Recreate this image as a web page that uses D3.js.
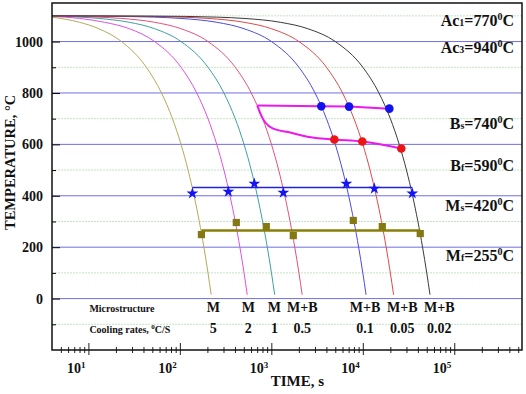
<!DOCTYPE html>
<html>
<head>
  <title>CCT diagram</title>
  <script src="https://cdn.jsdelivr.net/npm/d3@7/dist/d3.min.js"></script>
  <style>
    html, body { margin: 0; padding: 0; background: #fff; overflow: hidden; }
    svg { display: block; }
    text { font-family: 'Liberation Serif', 'Times New Roman', serif; font-weight: bold; }
  </style>
</head>
<body>
  <svg width="526" height="394" id="mainsvg"></svg>
  <script>
    // cooling rates, °C/s, and what they end up as
    const rates = ['5', '2', '1', '0.5', '0.1', '0.05', '0.02'];
    const phases = ['M', 'M', 'M', 'M+B', 'M+B', 'M+B', 'M+B'];
    const labelTimes = [232, 560, 1080, 2180, 10600, 27000, 68600];
    const curveColors = ['#b3aa5c', '#e050e0', '#3f9f9f', '#e2507e', '#4a4ae0', '#e04848', '#3a3a3a'];

    // cooling curves: [time s, temperature °C]
    const curve5 = [[4, 1095], [8, 1075], [13, 1050], [23, 1000], [43, 900], [63, 800], [83, 700], [103, 600], [123, 500], [143, 400], [163, 300], [183, 200], [203, 100], [220, 15]];
    const curve2 = [[4, 1098], [8, 1090], [15, 1075], [28, 1050], [53, 1000], [103, 900], [153, 800], [203, 700], [253, 600], [303, 500], [353, 400], [403, 300], [453, 200], [503, 100], [545, 15]];
    const curve1 = [[4, 1099], [13, 1090], [28, 1075], [53, 1050], [103, 1000], [203, 900], [303, 800], [403, 700], [503, 600], [603, 500], [703, 400], [803, 300], [903, 200], [1003, 100], [1088, 15]];
    const curve05 = [[4, 1100], [13, 1095], [23, 1090], [53, 1075], [103, 1050], [203, 1000], [403, 900], [603, 800], [803, 700], [1003, 600], [1203, 500], [1403, 400], [1603, 300], [1803, 200], [2003, 100], [2173, 15]];
    const curve01 = [[4, 1100], [13, 1099], [53, 1095], [103, 1090], [253, 1075], [503, 1050], [1003, 1000], [2003, 900], [3003, 800], [4003, 700], [5003, 600], [6003, 500], [7003, 400], [8003, 300], [9003, 200], [10003, 100], [10853, 15]];
    const curve005 = [[4, 1100], [23, 1099], [103, 1095], [203, 1090], [503, 1075], [1003, 1050], [2003, 1000], [4003, 900], [6003, 800], [8003, 700], [10003, 600], [12003, 500], [14003, 400], [16003, 300], [18003, 200], [20003, 100], [21703, 15]];
    const curve002 = [[4, 1100], [53, 1099], [253, 1095], [503, 1090], [1253, 1075], [2503, 1050], [5003, 1000], [10003, 900], [15003, 800], [20003, 700], [25003, 600], [30003, 500], [35003, 400], [40003, 300], [45003, 200], [50003, 100], [54253, 15]];
    const curves = [curve5, curve2, curve1, curve05, curve01, curve005, curve002];

    // bainite start / finish
    const bsLine = [[703, 751], [3516, 748], [7080, 747], [19500, 739]];
    const bfLine = [[703, 751], [759, 720], [859, 685], [1052, 661], [1614, 646], [2472, 630], [4887, 619], [9886, 611], [26360, 584]];
    const bsPoints = bsLine.slice(1);
    const bfPoints = bfLine.slice(6);

    // martensite start / finish
    const msTimes = [137, 339, 652, 1352, 6610, 13370, 34750];
    const msTemps = [409, 416, 447, 412, 447, 428, 409];
    const msLevel = 432;
    const mfTimes = [172, 414, 881, 1738, 7870, 16330, 42450];
    const mfTemps = [249, 296, 280, 245, 304, 280, 253];
    const mfLevel = 265;

    const yMajor = [0, 200, 400, 600, 800, 1000];
    const yMinor = [-100, 100, 300, 500, 700, 900, 1100];
    const xMajor = [1e1, 1e2, 1e3, 1e4, 1e5];

    const svg = d3.select('#mainsvg');
    const margin = { top: 3, right: 4, bottom: 44, left: 52 };
    const innerWidth = +svg.attr('width') - margin.left - margin.right;
    const innerHeight = +svg.attr('height') - margin.top - margin.bottom;

    const xScale = d3.scaleLog().domain([4, 5.5e5]).range([0, innerWidth]);
    const yScale = d3.scaleLinear().domain([-200, 1150]).range([innerHeight, 0]);

    const xMinor = [];
    [1, 10, 100, 1000, 1e4, 1e5].forEach(d => {
      for (let k = 2; k <= 9; k++) {
        const v = d * k;
        if (v > 4 && v < 5.5e5) xMinor.push(v);
      }
    });

    const g = svg.append('g').attr('transform', `translate(${margin.left}, ${margin.top})`);

    g.append('clipPath').attr('id', 'plotclip')
      .append('rect').attr('width', innerWidth).attr('height', innerHeight);

    // grid
    g.selectAll('.gmin').data(yMinor).enter().append('line')
      .attr('x1', 0).attr('x2', innerWidth)
      .attr('y1', d => yScale(d)).attr('y2', d => yScale(d))
      .attr('stroke', '#c4e4c4').attr('stroke-dasharray', '2,1');
    g.selectAll('.gmaj').data(yMajor).enter().append('line')
      .attr('x1', 0).attr('x2', innerWidth)
      .attr('y1', d => yScale(d)).attr('y2', d => yScale(d))
      .attr('stroke', '#7070e2');

    const plot = g.append('g').attr('clip-path', 'url(#plotclip)');
    const line = d3.line()
      .x(d => xScale(d[0]))
      .y(d => yScale(d[1]))
      .curve(d3.curveMonotoneX);

    plot.selectAll('.cool').data(curves).enter().append('path')
      .attr('d', line)
      .attr('fill', 'none')
      .attr('stroke', (d, i) => curveColors[i])
      .attr('stroke-width', 1);

    // Bs and Bf lines
    plot.append('path').attr('d', line.curve(d3.curveLinear)(bsLine))
      .attr('fill', 'none').attr('stroke', '#ee18ee').attr('stroke-width', 2);
    plot.append('path').attr('d', line.curve(d3.curveMonotoneX)(bfLine))
      .attr('fill', 'none').attr('stroke', '#ee18ee').attr('stroke-width', 2);

    // Ms and Mf lines
    plot.append('line')
      .attr('x1', xScale(msTimes[0])).attr('x2', xScale(msTimes[msTimes.length - 1]))
      .attr('y1', yScale(msLevel)).attr('y2', yScale(msLevel))
      .attr('stroke', '#2323d6').attr('stroke-width', 1.6);
    plot.append('line')
      .attr('x1', xScale(mfTimes[0])).attr('x2', xScale(mfTimes[mfTimes.length - 1]))
      .attr('y1', yScale(mfLevel)).attr('y2', yScale(mfLevel))
      .attr('stroke', '#8a7f0a').attr('stroke-width', 2.6);

    plot.selectAll('.bs').data(bsPoints).enter().append('circle')
      .attr('cx', d => xScale(d[0])).attr('cy', d => yScale(d[1]))
      .attr('r', 4.3).attr('fill', '#1212ee');
    plot.selectAll('.bf').data(bfPoints).enter().append('circle')
      .attr('cx', d => xScale(d[0])).attr('cy', d => yScale(d[1]))
      .attr('r', 4.3).attr('fill', '#ee1414');

    plot.selectAll('.ms').data(msTimes).enter().append('path')
      .attr('d', d3.symbol(d3.symbolStar, 44))
      .attr('transform', (d, i) => `translate(${xScale(d)}, ${yScale(msTemps[i])})`)
      .attr('fill', '#1414f4');
    plot.selectAll('.mf').data(mfTimes).enter().append('path')
      .attr('d', d3.symbol(d3.symbolSquare, 52))
      .attr('transform', (d, i) => `translate(${xScale(d)}, ${yScale(mfTemps[i])})`)
      .attr('fill', '#837812');

    // axes
    const yAxis = d3.axisLeft(yScale).tickValues(yMajor).tickSize(-8).tickSizeOuter(0)
      .tickPadding(9).tickFormat(d3.format('d'));
    const yAxisGroup = g.append('g').call(yAxis);
    yAxisGroup.selectAll('.domain').remove();
    yAxisGroup.selectAll('text').attr('font-size', 14).attr('fill', '#111');
    const yMinorGroup = g.append('g').call(d3.axisLeft(yScale).tickValues(yMinor.slice(0, 6)).tickSize(-4));
    yMinorGroup.selectAll('.domain, text').remove();

    const xAxisGroup = g.append('g').attr('transform', `translate(0, ${innerHeight})`);
    xAxisGroup.append('g').call(d3.axisBottom(xScale).tickValues(xMajor).tickSize(5));
    xAxisGroup.append('g').call(d3.axisTop(xScale).tickValues(xMajor).tickSize(7));
    xAxisGroup.append('g').call(d3.axisBottom(xScale).tickValues(xMinor).tickSize(3));
    xAxisGroup.append('g').call(d3.axisTop(xScale).tickValues(xMinor).tickSize(3));
    xAxisGroup.selectAll('.domain, text').remove();
    xAxisGroup.selectAll('line').attr('stroke', '#222');

    // text placed with transforms
    const place = (x, y) => `translate(${x}, ${y})`;

    const xt = xAxisGroup.selectAll('.xlab').data(xMajor).enter().append('text')
      .attr('transform', d => place(xScale(d) - 3, 23))
      .attr('text-anchor', 'end').attr('font-size', 14).attr('fill', '#111');
    xt.append('tspan').text('10');
    xt.append('tspan').attr('font-size', 9).attr('dy', -5).text(d => Math.round(Math.log10(d)));

    // frame
    g.append('rect').attr('width', innerWidth).attr('height', innerHeight)
      .attr('fill', 'none').attr('stroke', '#111').attr('stroke-width', 1.5);

    // axis titles
    g.append('text')
      .attr('transform', `${place(-37, yScale(530))} rotate(-90)`)
      .attr('text-anchor', 'middle').attr('font-size', 14.5).attr('fill', '#111')
      .text('TEMPERATURE, \u00b0C');
    g.append('text')
      .attr('transform', place(xScale(1e3) + 26, innerHeight + 36))
      .attr('text-anchor', 'middle').attr('font-size', 15).attr('fill', '#111')
      .text('TIME, s');

    // critical temperatures
    const crit = [
      ['Ac', '1', '=770', 26],
      ['Ac', '3', '=940', 53],
      ['B', 's', '=740', 129],
      ['B', 'f', '=590', 171],
      ['M', 's', '=420', 211],
      ['M', 'f', '=255', 261]
    ];
    const ct = svg.selectAll('.crit').data(crit).enter().append('text')
      .attr('transform', d => place(514, d[3]))
      .attr('text-anchor', 'end').attr('font-size', 16).attr('fill', '#111');
    ct.append('tspan').text(d => d[0]);
    ct.append('tspan').attr('font-size', 10).text(d => d[1]);
    ct.append('tspan').text(d => d[2]);
    ct.append('tspan').attr('font-size', 10).attr('dy', -6).text('0');
    ct.append('tspan').attr('dy', 6).text('C');

    // microstructure and cooling rate rows
    const rowY1 = yScale(-52);
    const rowY2 = yScale(-134);
    g.append('text').attr('transform', place(xScale(10) + 1, rowY1))
      .attr('font-size', 10).attr('fill', '#111').text('Microstructure');
    const cr = g.append('text').attr('transform', place(xScale(10) + 1, rowY2))
      .attr('font-size', 10).attr('fill', '#111');
    cr.append('tspan').text('Cooling rates, ');
    cr.append('tspan').attr('font-size', 7).attr('dy', -4).text('0');
    cr.append('tspan').attr('dy', 4).text('C/S');

    g.selectAll('.phase').data(phases).enter().append('text')
      .attr('transform', (d, i) => place(xScale(labelTimes[i]), rowY1))
      .attr('text-anchor', 'middle').attr('font-size', 14).attr('fill', '#111')
      .text(d => d);
    g.selectAll('.rate').data(rates).enter().append('text')
      .attr('transform', (d, i) => place(xScale(labelTimes[i]), rowY2))
      .attr('text-anchor', 'middle').attr('font-size', 14).attr('fill', '#111')
      .text(d => d);
  </script>
</body>
</html>
